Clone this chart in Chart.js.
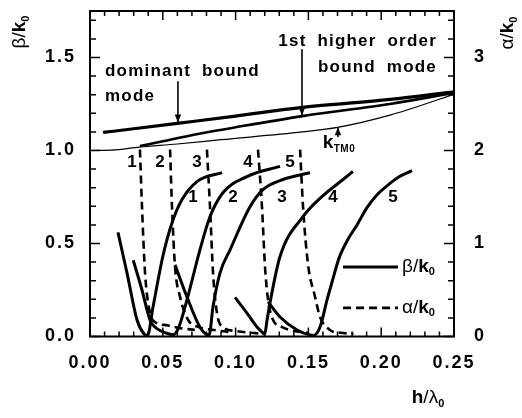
<!DOCTYPE html>
<html><head><meta charset="utf-8">
<script src="https://cdn.jsdelivr.net/npm/chart.js@4/dist/chart.umd.min.js"></script>
<style>html,body{margin:0;padding:0;background:#fff}canvas{display:block}</style>
</head><body>
<canvas id="c" width="522" height="418"></canvas>
<script>
// ---- tick values ----
const xTickValues = [0, 0.05, 0.10, 0.15, 0.20, 0.25];
const betaTickValues = [0, 0.5, 1.0, 1.5];
const alphaTickValues = [0, 1, 2, 3];

// ---- bound modes (beta/k0, left axis) ----
const dominantX = [0.009, 0.03, 0.06, 0.10, 0.146, 0.206, 0.25];
const dominantY = [1.097, 1.117, 1.146, 1.185, 1.232, 1.275, 1.316];
const higherX = [0.0343, 0.05, 0.075, 0.10, 0.146, 0.206, 0.25];
const higherY = [1.024, 1.05, 1.09, 1.125, 1.185, 1.25, 1.31];
const ktm0X = [0, 0.015, 0.034, 0.06, 0.09, 0.146, 0.17, 0.206, 0.25];
const ktm0Y = [1.0, 1.002, 1.018, 1.035, 1.058, 1.10, 1.124, 1.19, 1.302];

// ---- leaky modes beta/k0 (left axis) ----
const beta1X = [0.0192, 0.0254, 0.0323, 0.037, 0.0395, 0.0433, 0.0500, 0.0563, 0.0632, 0.0735, 0.0907];
const beta1Y = [0.56, 0.342, 0.089, 0.015, 0.005, 0.16, 0.43, 0.61, 0.736, 0.833, 0.881];
const beta2X = [0.0297, 0.0357, 0.0412, 0.0446, 0.055, 0.0575, 0.0610, 0.0666, 0.0755, 0.0824, 0.0913, 0.1078, 0.1305];
const beta2Y = [0.41, 0.25, 0.089, 0.051, 0.012, 0.01, 0.05, 0.197, 0.466, 0.644, 0.773, 0.86, 0.915];
const beta3X = [0.0584, 0.0666, 0.0755, 0.0803, 0.0818, 0.0845, 0.0893, 0.0962, 0.1099, 0.1188, 0.1326, 0.1511];
const beta3Y = [0.385, 0.213, 0.051, 0.01, 0.008, 0.16, 0.342, 0.466, 0.698, 0.79, 0.844, 0.88];
const beta4X = [0.0996, 0.1078, 0.1147, 0.1188, 0.1200, 0.1216, 0.1236, 0.1305, 0.1463, 0.1593, 0.1738, 0.1806];
const beta4Y = [0.21, 0.126, 0.051, 0.019, 0.012, 0.089, 0.18, 0.43, 0.644, 0.752, 0.844, 0.887];
const beta5X = [0.1223, 0.1305, 0.1422, 0.1511, 0.1535, 0.158, 0.1628, 0.1665, 0.1710, 0.1770, 0.1834, 0.1900, 0.1975, 0.204, 0.212, 0.2212];
const beta5Y = [0.186, 0.105, 0.035, 0.008, 0.006, 0.051, 0.197, 0.30, 0.42, 0.52, 0.60, 0.69, 0.765, 0.81, 0.857, 0.892];

// ---- leaky modes alpha/k0 (right axis) ----
const alpha1X = [0.0343, 0.0357, 0.0378, 0.0412, 0.0446, 0.0529, 0.062, 0.072];
const alpha1Y = [2.01, 1.40, 0.685, 0.253, 0.157, 0.12, 0.09, 0.07];
const alpha2X = [0.055, 0.0563, 0.0584, 0.0618, 0.0673, 0.075, 0.085, 0.095];
const alpha2Y = [2.01, 1.40, 0.75, 0.43, 0.18, 0.10, 0.07, 0.05];
const alpha3X = [0.0803, 0.0824, 0.0845, 0.0872, 0.0913, 0.10, 0.11, 0.118];
const alpha3Y = [2.01, 1.40, 0.685, 0.253, 0.10, 0.06, 0.04, 0.03];
const alpha4X = [0.1154, 0.1181, 0.1202, 0.1223, 0.1257, 0.132, 0.14, 0.15];
const alpha4Y = [2.01, 1.40, 0.75, 0.393, 0.18, 0.10, 0.06, 0.04];
const alpha5X = [0.1443, 0.1463, 0.1497, 0.1545, 0.158, 0.1648, 0.172, 0.181];
const alpha5Y = [2.01, 1.40, 0.78, 0.43, 0.21, 0.07, 0.04, 0.03];

// ---- mode numbers ----
const modeNumbers = ['1', '2', '3', '4', '5'];

const mk = (xs, ys) => xs.map((v, i) => ({x: v, y: ys[i]}));
const solid = (label, xs, ys, w) => ({label, data: mk(xs, ys), borderColor: '#000', borderWidth: w,
  pointRadius: 0, fill: false, yAxisID: 'y', cubicInterpolationMode: 'monotone'});
const dashed = (label, xs, ys) => ({label, data: mk(xs, ys), borderColor: '#000', borderWidth: 2.6,
  borderDash: [8, 5], pointRadius: 0, fill: false, yAxisID: 'y2', cubicInterpolationMode: 'monotone'});

function rich(ctx, parts, x, y, align) {
  let w = 0;
  for (const p of parts) { ctx.font = p[1]; w += ctx.measureText(p[0]).width; }
  let cx = align === 'right' ? x - w : (align === 'center' ? x - w / 2 : x);
  ctx.textAlign = 'left';
  for (const p of parts) { ctx.font = p[1]; ctx.fillText(p[0], cx, y + (p[2] || 0)); cx += ctx.measureText(p[0]).width; }
}
function arrow(ctx, x1, y1, x2, y2) {
  ctx.beginPath(); ctx.moveTo(x1, y1); ctx.lineTo(x2, y2); ctx.lineWidth = 1.6; ctx.stroke();
  const ang = Math.atan2(y2 - y1, x2 - x1), L = 8, W = 3.2;
  ctx.beginPath(); ctx.moveTo(x2, y2);
  ctx.lineTo(x2 - L * Math.cos(ang) + W * Math.sin(ang), y2 - L * Math.sin(ang) - W * Math.cos(ang));
  ctx.lineTo(x2 - L * Math.cos(ang) - W * Math.sin(ang), y2 - L * Math.sin(ang) + W * Math.cos(ang));
  ctx.closePath(); ctx.fill();
}

const GREEK = '19px "Liberation Sans", Arial, sans-serif';
const KFONT = 'bold 19px "Liberation Sans", Arial, sans-serif';
const SUB = 'bold 11px "Liberation Sans", Arial, sans-serif';

const overlay = {
  id: 'overlay',
  beforeDraw(chart) { chart.ctx.letterSpacing = '2px'; },
  afterDraw(chart) {
    const {ctx, chartArea: a, scales: {x, y, y2}} = chart;
    ctx.save();
    ctx.letterSpacing = '0px';
    ctx.strokeStyle = '#000'; ctx.fillStyle = '#000';
    ctx.lineWidth = 2;
    ctx.strokeRect(a.left, a.top, a.right - a.left, a.bottom - a.top);
    ctx.lineWidth = 1.5;
    ctx.beginPath();
    for (let i = 0; i <= 25; i++) {
      const px = x.getPixelForValue(i * 0.01), len = i % 5 === 0 ? 9 : 5;
      ctx.moveTo(px, a.bottom); ctx.lineTo(px, a.bottom - len);
      ctx.moveTo(px, a.top); ctx.lineTo(px, a.top + len);
    }
    for (let i = 0; i <= 17; i++) {
      const py = y.getPixelForValue(i * 0.1), len = i % 5 === 0 ? 10 : 6;
      ctx.moveTo(a.left, py); ctx.lineTo(a.left + len, py);
    }
    for (let i = 0; i <= 17; i++) {
      const py = y2.getPixelForValue(i * 0.2), len = i % 5 === 0 ? 10 : 6;
      ctx.moveTo(a.right, py); ctx.lineTo(a.right - len, py);
    }
    ctx.stroke();

    const X = v => x.getPixelForValue(v), Y = v => y.getPixelForValue(v);
    ctx.textBaseline = 'middle';
    ctx.letterSpacing = '1.2px';
    ctx.font = 'bold 17px "Liberation Sans", Arial, sans-serif';
    ctx.wordSpacing = '5px';
    ctx.textAlign = 'left';
    ctx.fillText('dominant bound', X(0.0103), Y(1.425));
    ctx.fillText('mode', X(0.0103), Y(1.29));
    ctx.textAlign = 'right';
    ctx.fillText('1st higher order', X(0.2383), Y(1.588));
    ctx.fillText('bound mode', X(0.2383), Y(1.447));
    ctx.wordSpacing = '0px';
    arrow(ctx, X(0.0604), Y(1.372), X(0.0604), Y(1.151));
    arrow(ctx, X(0.1456), Y(1.544), X(0.1456), Y(1.188));
    arrow(ctx, X(0.1703), Y(1.072), X(0.1703), Y(1.125));
    ctx.letterSpacing = '0.5px';
    ctx.textBaseline = 'alphabetic';
    rich(ctx, [['k', 'bold 19px "Liberation Sans", Arial, sans-serif'], ['TM0', 'bold 10px "Liberation Sans", Arial, sans-serif', 4]], X(0.1598), Y(1.012), 'left');

    // mode numbers
    ctx.letterSpacing = '0px';
    ctx.textBaseline = 'middle'; ctx.textAlign = 'center';
    ctx.font = 'bold 17px "Liberation Sans", Arial, sans-serif';
    const topX = [0.0288, 0.048, 0.0735, 0.1085, 0.1374];
    const midX = [0.0707, 0.0982, 0.1319, 0.1669, 0.2081];
    modeNumbers.forEach((t, i) => {
      ctx.fillText(t, X(topX[i]), Y(0.935));
      ctx.fillText(t, X(midX[i]), Y(0.75));
    });

    // legend
    ctx.lineWidth = 3;
    ctx.beginPath(); ctx.moveTo(X(0.1738), Y(0.374)); ctx.lineTo(X(0.2115), Y(0.374)); ctx.stroke();
    ctx.setLineDash([8, 5]); ctx.lineWidth = 2.6;
    ctx.beginPath(); ctx.moveTo(X(0.1738), Y(0.154)); ctx.lineTo(X(0.2115), Y(0.154)); ctx.stroke();
    ctx.setLineDash([]);
    ctx.textBaseline = 'middle';
    rich(ctx, [['β', GREEK], ['/', GREEK], ['k', KFONT], ['0', SUB, 5]], X(0.2143), Y(0.374), 'left');
    rich(ctx, [['α', GREEK], ['/', GREEK], ['k', KFONT], ['0', SUB, 5]], X(0.2143), Y(0.154), 'left');

    // axis titles
    ctx.textBaseline = 'alphabetic';
    ctx.save(); ctx.translate(25, 32); ctx.rotate(-Math.PI / 2);
    rich(ctx, [['β', GREEK], ['/', GREEK], ['k', KFONT], ['0', SUB, 4]], 0, 0, 'center');
    ctx.restore();
    ctx.save(); ctx.translate(513, 33); ctx.rotate(-Math.PI / 2);
    rich(ctx, [['α', GREEK], ['/', GREEK], ['k', KFONT], ['0', SUB, 4]], 0, 0, 'center');
    ctx.restore();
    rich(ctx, [['h', KFONT], ['/', GREEK], ['λ', GREEK], ['0', SUB, 4]], 428, 403, 'center');
    ctx.restore();
  }
};

const noPadV = s => { s.paddingTop = 0; s.paddingBottom = 0; };
const TICKFONT = {family: '"Liberation Sans", Arial, sans-serif', weight: 'bold', size: 18};

Chart.defaults.color = '#000';
new Chart(document.getElementById('c'), {
  type: 'line',
  data: {
    datasets: [
      solid('dominant bound mode', dominantX, dominantY, 3.2),
      solid('1st higher order bound mode', higherX, higherY, 2.6),
      solid('kTM0', ktm0X, ktm0Y, 1.2),
      solid('β/k0 1', beta1X, beta1Y, 3),
      solid('β/k0 2', beta2X, beta2Y, 3),
      solid('β/k0 3', beta3X, beta3Y, 3),
      solid('β/k0 4', beta4X, beta4Y, 3),
      solid('β/k0 5', beta5X, beta5Y, 3),
      dashed('α/k0 1', alpha1X, alpha1Y),
      dashed('α/k0 2', alpha2X, alpha2Y),
      dashed('α/k0 3', alpha3X, alpha3Y),
      dashed('α/k0 4', alpha4X, alpha4Y),
      dashed('α/k0 5', alpha5X, alpha5Y)
    ]
  },
  options: {
    responsive: false, animation: false, devicePixelRatio: 1,
    layout: {padding: {top: 11, left: 0, right: 0, bottom: 0}},
    plugins: {legend: {display: false}, tooltip: {enabled: false}},
    scales: {
      x: {
        type: 'linear', position: 'bottom', min: 0, max: 0.25,
        afterBuildTicks: s => { s.ticks = xTickValues.map(v => ({value: v})); },
        afterFit: s => { s.height = 81.5; s.paddingLeft = 0; s.paddingRight = 0; },
        grid: {display: false, drawTicks: false}, border: {display: false},
        ticks: {font: TICKFONT, color: '#000', padding: 16, maxRotation: 0, autoSkip: false,
          callback: v => Number(v).toFixed(2)}
      },
      y: {
        type: 'linear', position: 'left', min: 0, max: 1.75,
        afterBuildTicks: s => { s.ticks = betaTickValues.map(v => ({value: v})); },
        afterFit: s => { s.width = 90; noPadV(s); },
        grid: {display: false, drawTicks: false}, border: {display: false},
        ticks: {font: TICKFONT, color: '#000', padding: 14, autoSkip: false, callback: v => Number(v).toFixed(1)}
      },
      y2: {
        type: 'linear', position: 'right', min: 0, max: 3.5,
        afterBuildTicks: s => { s.ticks = alphaTickValues.map(v => ({value: v})); },
        afterFit: s => { s.width = 68; noPadV(s); },
        grid: {display: false, drawTicks: false}, border: {display: false},
        ticks: {font: TICKFONT, color: '#000', padding: 20, autoSkip: false, callback: v => String(v)}
      }
    }
  },
  plugins: [overlay]
});
</script>
</body></html>
